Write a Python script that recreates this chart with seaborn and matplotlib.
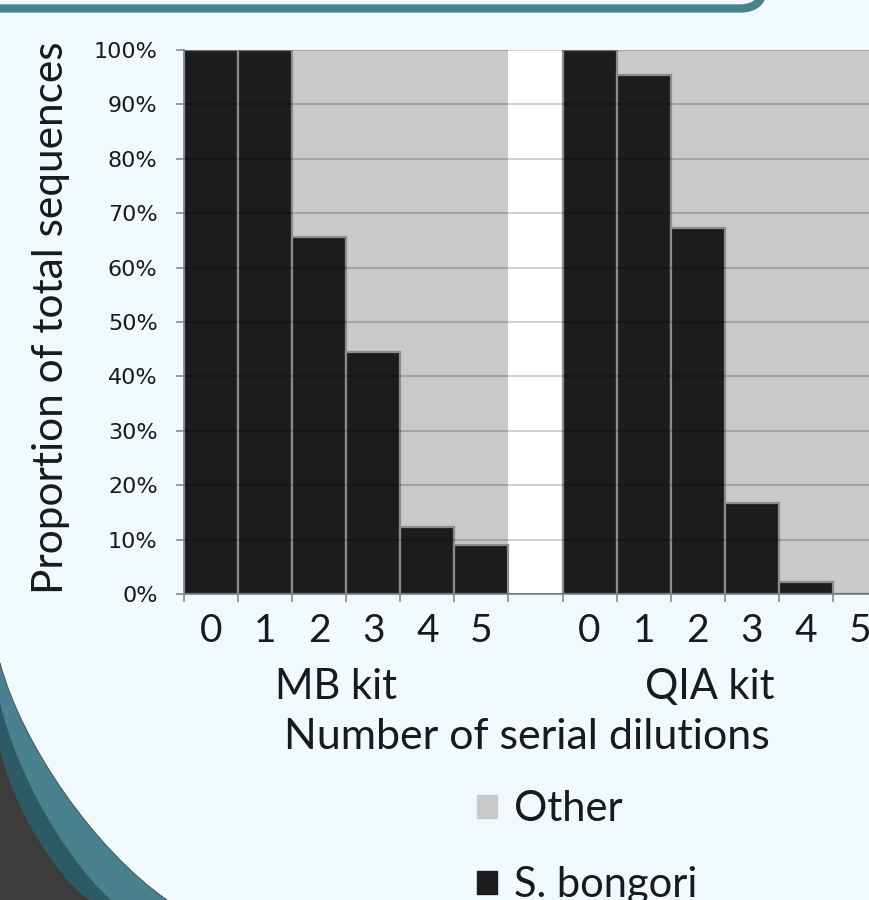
import numpy as np
import pandas as pd
import matplotlib
matplotlib.use("Agg")
import matplotlib.pyplot as plt
import seaborn as sns
from matplotlib.path import Path
from matplotlib.patches import PathPatch, FancyBboxPatch, Patch
from matplotlib.transforms import Affine2D, blended_transform_factory

# ---- data -------------------------------------------------------------
kits = ["MB kit", "QIA kit"]
dilutions = ["0", "1", "2", "3", "4", "5"]
mb_bongori = [100.0, 100.0, 65.6, 44.5, 12.3, 9.0]     # % S. bongori reads
qia_bongori = [100.0, 95.4, 67.3, 16.7, 2.2, 0.0]
y_ticks = [0, 10, 20, 30, 40, 50, 60, 70, 80, 90, 100]
series_names = ["Other", "S. bongori"]

# ---- style ------------------------------------------------------------
W, H, DPI = 869, 900, 100
BG = "#f2f9fc"
TEAL = "#4a818f"
TEAL_DARK = "#2d5a65"
SLATE = "#3c3c3c"
GRAY = "#c9c9c9"
DARK = "#1c1c1c"
AXIS = "#8a8a8a"
TXT = "#1a1a1a"

sns.set_theme(style="white")
plt.rcParams["font.family"] = ["Lato", "DejaVu Sans"]

fig = plt.figure(figsize=(W / DPI, H / DPI), dpi=DPI, facecolor=BG)
# pixel coordinates, origin at the top-left corner of the canvas
PX = Affine2D().scale(1 / W, -1 / H).translate(0, 1) + fig.transFigure

# ---- slide decoration -------------------------------------------------
fig.patches.append(FancyBboxPatch(
    (-80, -200), 80 + 764, 200 + 8.5,
    boxstyle="round,pad=0,rounding_size=24",
    transform=PX, facecolor=BG, edgecolor=TEAL, linewidth=6.0, zorder=0))


def corner_band(p0, p1, p2, p3, color, edge=None):
    verts = [p0, p1, p2, p3, (p3[0], 910), (-10, 910), (-10, p0[1]), p0]
    codes = [Path.MOVETO, Path.CURVE4, Path.CURVE4, Path.CURVE4,
             Path.LINETO, Path.LINETO, Path.LINETO, Path.CLOSEPOLY]
    fig.patches.append(PathPatch(Path(verts, codes), transform=PX,
                                 facecolor=color,
                                 edgecolor=edge if edge else color,
                                 linewidth=0.8 if edge else 0, zorder=0))


corner_band((0, 663), (22, 745), (95, 850), (167, 900), TEAL, edge="#4f5a5c")
corner_band((0, 702), (15, 770), (64, 858), (111, 900), TEAL_DARK)
corner_band((0, 750), (12, 802), (51, 872), (89, 900), SLATE)

# ---- data frame -------------------------------------------------------
rows = []
for kit, vals in zip(kits, [mb_bongori, qia_bongori]):
    for d, v in zip(dilutions, vals):
        rows.append({"slot": f"{kit} {d}", "kit": kit, "dilution": d,
                     "bongori": v, "other": 100.0 - v})
df = pd.DataFrame(rows)
df["total"] = df["bongori"] + df["other"]
order = ([f"{kits[0]} {d}" for d in dilutions] + ["gap"]
         + [f"{kits[1]} {d}" for d in dilutions])

# ---- axes -------------------------------------------------------------
ax = fig.add_axes([184 / W, 1 - 594 / H, 703 / W, 544 / H])
ax.set_facecolor("white")

sns.barplot(data=df, x="slot", y="total", order=order, color=GRAY,
            saturation=1, width=1.0, errorbar=None, linewidth=0, ax=ax)
sns.barplot(data=df, x="slot", y="bongori", order=order, color=DARK,
            saturation=1, width=1.0, errorbar=None, edgecolor="#8c8c8c",
            linewidth=1.6, ax=ax)

ax.set_xlim(-0.5, len(order) - 0.5)
ax.set_ylim(0, 100)

# gridlines drawn over the bars
ax.set_axisbelow(False)
ax.yaxis.grid(True, color="black", alpha=0.18, linewidth=1.5)
ax.xaxis.grid(False)

for side in ["top", "right"]:
    ax.spines[side].set_visible(False)
for side in ["left", "bottom"]:
    ax.spines[side].set_color(AXIS)
    ax.spines[side].set_linewidth(1.3)

# y axis
ax.set_yticks(y_ticks)
ax.set_yticklabels([f"{v}%" for v in y_ticks], fontfamily="DejaVu Sans",
                   fontsize=16, color=TXT)
ax.tick_params(axis="y", left=True, length=6, width=1.2, color=AXIS, pad=13)

# x axis: labels at bar centres, tick marks at bar boundaries
tick_labels = dilutions + [""] + dilutions
ax.set_xticks(range(len(order)))
ax.set_xticklabels(tick_labels, fontsize=28, color=TXT)
ax.set_xticks(np.arange(-0.5, len(order), 1.0), minor=True)
ax.tick_params(axis="x", which="major", bottom=True, length=0, pad=14)
ax.tick_params(axis="x", which="minor", bottom=True, length=6, width=1.2,
               color=AXIS)

# group names under the tick labels
grp = blended_transform_factory(ax.transData, fig.transFigure)
ax.text(2.31, 1 - 699 / H, kits[0], transform=grp, ha="center",
        va="baseline", fontsize=30, color=TXT)
ax.text(9.23, 1 - 699 / H, kits[1], transform=grp, ha="center",
        va="baseline", fontsize=30, color=TXT)

ax.set_xlabel("Number of serial dilutions", fontsize=31, color=TXT)
ax.xaxis.set_label_coords((527 - 184) / 703, (594 - 718) / 544)
ax.set_ylabel("Proportion of total sequences", fontsize=30.5, color=TXT)
ax.yaxis.set_label_coords((70 - 184) / 703, (594 - 318) / 544)

# legend
handles = [Patch(facecolor=GRAY, edgecolor=GRAY),
           Patch(facecolor=DARK, edgecolor=DARK)]
fig.legend(handles, series_names, loc="upper left",
           bbox_to_anchor=(477, 790), bbox_transform=PX, frameon=False,
           fontsize=30, handlelength=0.47, handleheight=0.47,
           handletextpad=0.43, labelspacing=0.92, borderpad=0,
           borderaxespad=0, labelcolor=TXT)

fig.savefig("out.png", dpi=DPI, facecolor=BG)
